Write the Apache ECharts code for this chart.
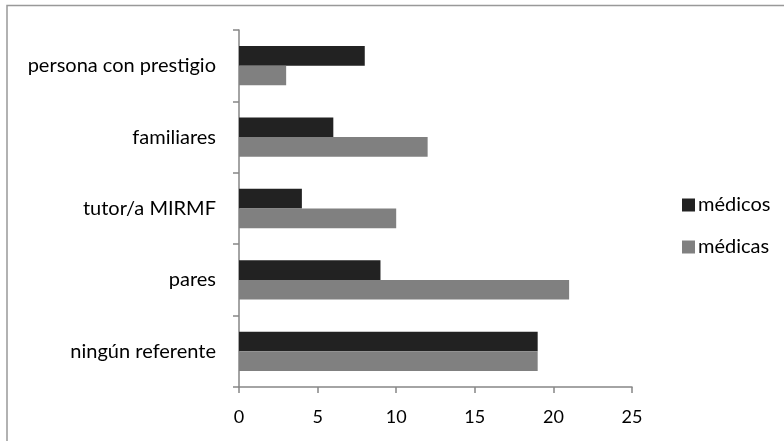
<!DOCTYPE html>
<html>
<head>
<meta charset="utf-8">
<script src="https://cdn.jsdelivr.net/npm/echarts@6/dist/echarts.min.js"></script>
<style>
  html, body { margin: 0; padding: 0; background: #fff; }
  #chart { width: 784px; height: 441px; }
</style>
</head>
<body>
<div id="chart"></div>
<script>
// Referentes profesionales, por sexo
const categories = ['ningún referente', 'pares', 'tutor/a MIRMF', 'familiares', 'persona con prestigio'];
const medicos = [19, 9, 4, 6, 8];
const medicas = [19, 21, 10, 12, 3];
const xTicks = [0, 5, 10, 15, 20, 25];

const FONT = 'Lato';
const chart = echarts.init(document.getElementById('chart'), null, { renderer: 'canvas' });

chart.setOption({
  backgroundColor: '#fff',
  animation: false,
  textStyle: { fontFamily: FONT },
  graphic: [{
    type: 'rect',
    shape: { x: 7, y: 5.5, width: 900, height: 600 },
    style: { fill: 'none', stroke: '#999', lineWidth: 1.5 },
    silent: true
  }],
  grid: { left: 239, right: 152, top: 30, bottom: 54 },
  legend: {
    orient: 'vertical',
    left: 677,
    top: 190,
    itemWidth: 13,
    itemHeight: 13,
    itemGap: 22,
    icon: 'rect',
    textStyle: { fontFamily: FONT, fontSize: 20, color: '#000', padding: [0, 0, 0, -2] },
    data: ['médicos', 'médicas']
  },
  xAxis: {
    type: 'value',
    min: xTicks[0],
    max: xTicks[xTicks.length - 1],
    interval: 5,
    axisLine: { show: true, lineStyle: { color: '#868686', width: 1.5 } },
    axisTick: { show: true, length: 6, lineStyle: { color: '#868686', width: 1.5 } },
    axisLabel: { fontFamily: FONT, fontSize: 18, color: '#000', margin: 21 },
    splitLine: { show: false }
  },
  yAxis: {
    type: 'category',
    data: categories,
    axisLine: { show: true, lineStyle: { color: '#868686', width: 1.5 } },
    axisTick: { show: true, length: 6, lineStyle: { color: '#868686', width: 1.5 } },
    axisLabel: { fontFamily: FONT, fontSize: 20, color: '#000', margin: 23 }
  },
  series: [
    {
      name: 'médicos',
      type: 'bar',
      data: medicos,
      itemStyle: { color: '#222222' },
      barGap: '0%',
      barCategoryGap: '45%'
    },
    {
      name: 'médicas',
      type: 'bar',
      data: medicas,
      itemStyle: { color: '#808080' },
      barGap: '0%',
      barCategoryGap: '45%'
    }
  ]
});
</script>
</body>
</html>
